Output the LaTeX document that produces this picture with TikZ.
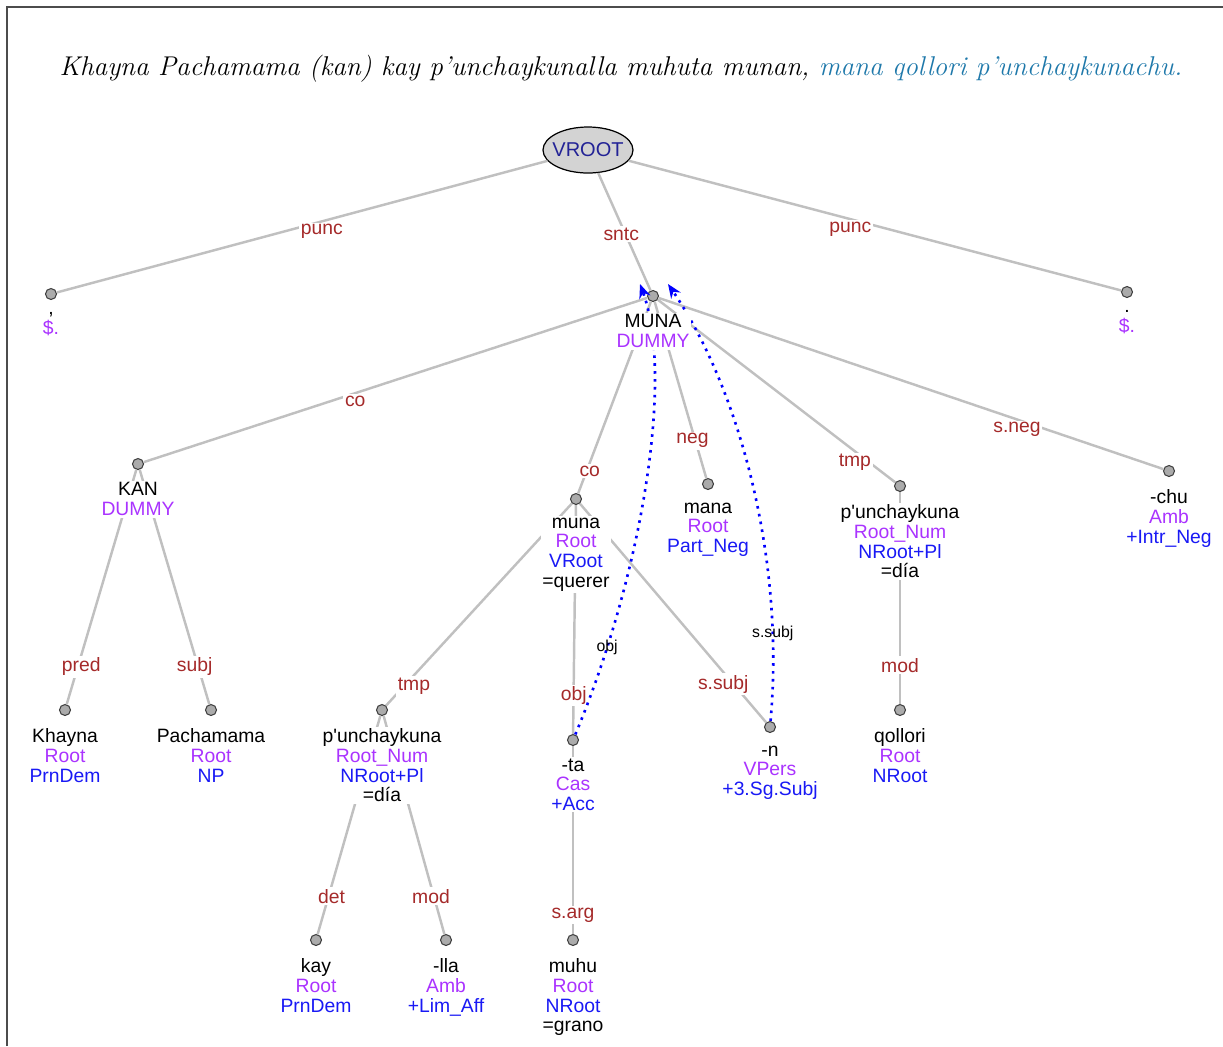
\documentclass[tikz,border=0pt]{standalone}
\usepackage{fontspec}
\newfontfamily\treefont{Liberation Sans}
\usepackage{xcolor}
\usepackage{tikz}
\usetikzlibrary{arrows.meta,positioning,shapes.geometric}
\definecolor{edgegray}{RGB}{192,192,192}
\definecolor{labred}{RGB}{165,42,42}
\definecolor{catpurple}{RGB}{170,51,255}
\definecolor{tagblue}{RGB}{25,25,245}
\definecolor{rootnavy}{RGB}{35,35,150}
\definecolor{rootgray}{RGB}{211,211,211}
\definecolor{titleblue}{RGB}{30,120,170}

\begin{document}
\begin{tikzpicture}[
    x=0.02cm,y=-0.02cm,
    frame/.style={draw=black!70,line width=0.9pt},
    rootnode/.style={ellipse,draw=black,fill=rootgray,line width=0.7pt,
      minimum width=1.8cm,minimum height=0.92cm,inner sep=-2.2pt,
      text=rootnavy,font=\treefont\fontsize{11.4}{11.2}\selectfont},
    dot/.style={circle,draw=black!75,fill=black!33,line width=0.6pt,
      inner sep=0pt,minimum size=0.22cm},
    edge/.style={draw=edgegray,line width=1.4pt},
    lab/.style={font=\treefont\fontsize{11}{11.2}\selectfont,text=labred,
      fill=white,inner sep=1pt,anchor=north},
    word/.style={font=\treefont\fontsize{11}{11.2}\selectfont,align=center,
      fill=white,inner sep=1pt,execute at begin node={\rule{0pt}{8.3pt}}},
    arc/.style={draw=blue,line width=1.5pt,dash pattern=on 1.5pt off 3pt,
      -{Stealth[length=8pt,width=6.5pt]}},
    arclab/.style={font=\treefont\fontsize{9}{9}\selectfont,inner sep=0pt}
  ]
    \useasboundingbox (0,0) rectangle (1223,1046);
    \draw[frame] (7,1046) -- (7,7) -- (1223,7);
    \node[font=\itshape\fontsize{15.45}{19}\selectfont,anchor=base] (title) at (621,75)
      {Khayna Pachamama (kan) kay p'unchaykunalla muhuta munan, \textcolor{titleblue}{mana qollori p'unchaykunachu.}};
    % tree nodes
    \node[rootnode] (vroot) at (588,150) {VROOT};
    \node[dot] (comma) at (51,294) {};
    \node[dot] (munahead) at (653,296) {};
    \node[dot] (period) at (1127,292) {};
    \node[dot] (kan) at (138,464) {};
    \node[dot] (munav) at (576,499) {};
    \node[dot] (mana) at (708,484) {};
    \node[dot] (punchr) at (900,486) {};
    \node[dot] (chu) at (1169,471) {};
    \node[dot] (khayna) at (65,710) {};
    \node[dot] (pacha) at (211,710) {};
    \node[dot] (punchl) at (382,710) {};
    \node[dot] (ta) at (573,740) {};
    \node[dot] (n) at (770,727) {};
    \node[dot] (qollori) at (900,710) {};
    \node[dot] (kay) at (316,940) {};
    \node[dot] (lla) at (446,940) {};
    \node[dot] (muhu) at (573,940) {};
    \coordinate (objtip) at (640,284);
    \coordinate (subjtip) at (668,284);
    % dependencies
    \draw[edge] (vroot) -- node[lab,pos=0.46] {punc} (comma);
    \draw[edge] (vroot) -- node[lab,pos=0.44] {sntc} (munahead);
    \draw[edge] (vroot) -- node[lab,pos=0.45] {punc} (period);
    \draw[edge] (munahead) -- node[lab,pos=0.58] {co} (kan);
    \draw[edge] (munahead) -- node[lab,pos=0.84] {co} (munav);
    \draw[edge] (munahead) -- node[lab,pos=0.73] {neg} (mana);
    \draw[edge] (munahead) -- node[lab,pos=0.83] {tmp} (punchr);
    \draw[edge] (munahead) -- node[lab,pos=0.71] {s.neg} (chu);
    \draw[edge] (kan) -- node[lab,pos=0.79] {pred} (khayna);
    \draw[edge] (kan) -- node[lab,pos=0.79] {subj} (pacha);
    \draw[edge] (munav) -- node[lab,pos=0.85] {tmp} (punchl);
    \draw[edge] (munav) -- node[lab,pos=0.78] {obj} (ta);
    \draw[edge] (munav) -- node[lab,pos=0.77] {s.subj} (n);
    \draw[edge] (punchr) -- node[lab,pos=0.77] {mod} (qollori);
    \draw[edge] (punchl) -- node[lab,pos=0.78] {det} (kay);
    \draw[edge] (punchl) -- node[lab,pos=0.78] {mod} (lla);
    \draw[edge] (ta) -- node[lab,pos=0.845] {s.arg} (muhu);
    \draw[arc] (ta) .. controls (640,580) and (675,380) .. node[arclab,pos=0.18] {obj} (objtip);
    \draw[arc] (n) .. controls (785,560) and (740,390) .. node[arclab,pos=0.18] {s.subj} (subjtip);
    % word labels
    \node[word,below=6pt of comma] (commatext) {,\\\textcolor{catpurple}{\$.}};
    \node[word,below=6pt of period] (periodtext) {.\\\textcolor{catpurple}{\$.}};
    \node[word,below=6pt of munahead] (munaheadtext) {MUNA\\\textcolor{catpurple}{DUMMY}};
    \node[word,below=6pt of kan] (kantext) {KAN\\\textcolor{catpurple}{DUMMY}};
    \node[word,below=6pt of munav] (munavtext) {muna\\\textcolor{catpurple}{Root}\\\textcolor{tagblue}{VRoot}\\=querer};
    \node[word,below=6pt of mana] (manatext) {mana\\\textcolor{catpurple}{Root}\\\textcolor{tagblue}{Part\_Neg}};
    \node[word,below=6pt of punchr] (punchrtext) {p\textquotesingle unchaykuna\\\textcolor{catpurple}{Root\_Num}\\\textcolor{tagblue}{NRoot+Pl}\\=día};
    \node[word,below=6pt of chu] (chutext) {-chu\\\textcolor{catpurple}{Amb}\\\textcolor{tagblue}{+Intr\_Neg}};
    \node[word,below=6pt of khayna] (khaynatext) {Khayna\\\textcolor{catpurple}{Root}\\\textcolor{tagblue}{PrnDem}};
    \node[word,below=6pt of pacha] (pachatext) {Pachamama\\\textcolor{catpurple}{Root}\\\textcolor{tagblue}{NP}};
    \node[word,below=6pt of punchl] (punchltext) {p\textquotesingle unchaykuna\\\textcolor{catpurple}{Root\_Num}\\\textcolor{tagblue}{NRoot+Pl}\\=día};
    \node[word,below=6pt of ta] (tatext) {-ta\\\textcolor{catpurple}{Cas}\\\textcolor{tagblue}{+Acc}};
    \node[word,below=6pt of n] (ntext) {-n\\\textcolor{catpurple}{VPers}\\\textcolor{tagblue}{+3.Sg.Subj}};
    \node[word,below=6pt of qollori] (qolloritext) {qollori\\\textcolor{catpurple}{Root}\\\textcolor{tagblue}{NRoot}};
    \node[word,below=6pt of kay] (kaytext) {kay\\\textcolor{catpurple}{Root}\\\textcolor{tagblue}{PrnDem}};
    \node[word,below=6pt of lla] (llatext) {-lla\\\textcolor{catpurple}{Amb}\\\textcolor{tagblue}{+Lim\_Aff}};
    \node[word,below=6pt of muhu] (muhutext) {muhu\\\textcolor{catpurple}{Root}\\\textcolor{tagblue}{NRoot}\\=grano};
  \end{tikzpicture}
\end{document}
